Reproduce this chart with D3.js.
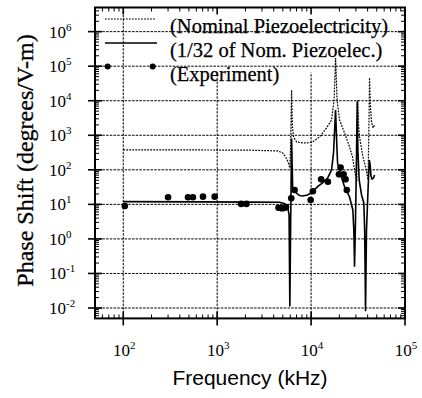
<!DOCTYPE html>
<html><head><meta charset="utf-8">
<script src="https://cdn.jsdelivr.net/npm/d3@7"></script>
<style>body{margin:0;background:#fff}svg{display:block}</style>
</head><body>
<svg id="c" width="422" height="398"></svg>
<script>
// ---- data ----
const xTickValues = [100, 1000, 10000, 100000];
const xTickExps = ["2", "3", "4", "5"];
const yTickValues = [0.01, 0.1, 1, 10, 100, 1000, 10000, 100000, 1000000];
const yTickExps = ["-2", "-1", "0", "1", "2", "3", "4", "5", "6"];

const nominalF = [100,650,2220,4400,4980,5360,5690,5940,6080,6200,6320,6510,7020,8120,9190,10380,12310,14610,16520,17570,18220,18920,20100,22710,25680,27620,29020,30620,31400,32000,32810,35300,38670,40400,41390,41900,42750,44030,45700,47400];
const nominalV = [376,376,370,352,308,236,169,113,730,20500,1990,890,640,600,600,640,890,1630,2780,10500,173000,10500,2780,1170,460,236,99,45,10500,1990,890,270,99,51,2780,45700,7550,2430,1630,1990];

const scaledF = [100,650,2220,4620,5230,5630,5830,5940,6050,6200,6360,6960,7550,8120,9190,10380,11730,13250,14990,16520,17340,17910,18220,18700,19140,20950,22710,25680,27840,28510,29020,29720,30250,30700,30990,31500,32500,34470,36440,37200,38000,38900,40400,41700,42550,43460,44560,46220,47400];
const scaledV = [12.0,11.8,11.6,11.5,10.5,8.4,4.9,0.011,1.8,800,31.9,21.4,18,17.5,18.7,23.3,32.5,42,58,99,308,1990,5400,730,158,63,32.5,16.4,6.9,1.8,0.157,3.5,71,1430,9400,376,51,18.7,11,1.8,0.008,1.8,26,193,138,66,54,58,71];

const expF = [104,300,489,552,706,940,1800,2050,4500,4750,4950,5150,5400,6150,6670,9890,10450,12800,15100,19800,20600,22200,23300,24000];
const expV = [9.0,16,16,16,16.7,16.7,10.3,10.3,8.0,7.8,7.7,7.9,8.3,15,26,13.4,24,53,45,74,116,74,53,26];

const legendLabels = ["(Nominal Piezoelectricity)", "(1/32 of Nom. Piezoelec.)", "(Experiment)"];

// ---- drawing ----
const svg = d3.select("#c");
const L = 95, R = 405, T = 7.5, B = 318.4;
const x = d3.scaleLog().domain([50, 100000]).range([L, R]);
const y = d3.scaleLog().domain([0.005, 5e6]).range([B, T]);
const serif = "'Liberation Serif','Times New Roman',serif";
const sans = "'Liberation Sans',Arial,sans-serif";
const gridStyle = g => g.attr("stroke", "#000").attr("stroke-width", 1).attr("stroke-dasharray", "2.5,1.2");

// vertical grid
svg.append("g").selectAll("line").data(xTickValues.filter(v => v < 100000)).join("line")
  .attr("x1", d => x(d)).attr("x2", d => x(d)).attr("y1", T).attr("y2", B).call(gridStyle);

// legend background (hides vertical grid behind text)
svg.append("rect").attr("x", 163).attr("y", T + 1).attr("width", R - 165).attr("height", 64).attr("fill", "#fff");

// horizontal grid
svg.append("g").selectAll("line").data(yTickValues).join("line")
  .attr("x1", L).attr("x2", R).attr("y1", d => y(d)).attr("y2", d => y(d)).call(gridStyle);

// minor ticks
const minorX = [];
for (let e = 1; e <= 4; e++) for (let m = 2; m <= 9; m++) { const v = m * Math.pow(10, e); if (v > 50 && v < 100000) minorX.push(v); }
const minorY = [];
for (let e = -3; e <= 6; e++) for (let m = 2; m <= 9; m++) { const v = m * Math.pow(10, e); if (v > 0.005 && v < 5e6) minorY.push(v); }
const tk = svg.append("g").attr("stroke", "#000").attr("stroke-width", 1);
minorX.forEach(v => {
  tk.append("line").attr("x1", x(v)).attr("x2", x(v)).attr("y1", B).attr("y2", B - 4);
  tk.append("line").attr("x1", x(v)).attr("x2", x(v)).attr("y1", T).attr("y2", T + 4);
});
minorY.forEach(v => {
  tk.append("line").attr("y1", y(v)).attr("y2", y(v)).attr("x1", L).attr("x2", L + 4);
  tk.append("line").attr("y1", y(v)).attr("y2", y(v)).attr("x1", R).attr("x2", R - 4);
});
xTickValues.forEach(v => {
  tk.append("line").attr("x1", x(v)).attr("x2", x(v)).attr("y1", B + 7).attr("y2", B - 7).attr("stroke-width", 1.6);
  tk.append("line").attr("x1", x(v)).attr("x2", x(v)).attr("y1", T).attr("y2", T + 7).attr("stroke-width", 1.6);
});
yTickValues.forEach(v => {
  tk.append("line").attr("y1", y(v)).attr("y2", y(v)).attr("x1", L - 7).attr("x2", L + 7).attr("stroke-width", 1.6);
  tk.append("line").attr("y1", y(v)).attr("y2", y(v)).attr("x1", R).attr("x2", R - 7).attr("stroke-width", 1.6);
});

// frame
svg.append("rect").attr("x", L).attr("y", T).attr("width", R - L).attr("height", B - T)
  .attr("fill", "none").attr("stroke", "#000").attr("stroke-width", 2);

// curves
const line = d3.line().x(d => x(d[0])).y(d => y(d[1]));
svg.append("path").datum(nominalF.map((f, i) => [f, nominalV[i]])).attr("d", line)
  .attr("fill", "none").attr("stroke", "#000").attr("stroke-width", 1.2).attr("stroke-dasharray", "1.8,1.2");
svg.append("path").datum(scaledF.map((f, i) => [f, scaledV[i]])).attr("d", line)
  .attr("fill", "none").attr("stroke", "#000").attr("stroke-width", 1.6);
svg.append("g").selectAll("circle").data(expF.map((f, i) => [f, expV[i]])).join("circle")
  .attr("cx", d => x(d[0])).attr("cy", d => y(d[1])).attr("r", 3.3).attr("fill", "#000");

// legend
const lg = svg.append("g");
lg.append("line").attr("x1", 105).attr("x2", 156).attr("y1", 19).attr("y2", 19)
  .attr("stroke", "#000").attr("stroke-width", 1.2).attr("stroke-dasharray", "1.8,1.2");
lg.append("line").attr("x1", 105).attr("x2", 157).attr("y1", 43).attr("y2", 43)
  .attr("stroke", "#000").attr("stroke-width", 1.6);
[107.7, 152.7].forEach(cx => lg.append("circle").attr("cx", cx).attr("cy", 66.5).attr("r", 3).attr("fill", "#000"));
legendLabels.forEach((t, i) => lg.append("text").attr("x", 170).attr("y", 33 + 24 * i)
  .attr("font-family", serif).attr("font-size", 20.5).attr("fill", "#000")
  .attr("stroke", "#000").attr("stroke-width", 0.25).text(t));

// tick labels
xTickValues.forEach((v, i) => {
  const t = svg.append("text").attr("x", x(v) + 1).attr("y", 356).attr("text-anchor", "middle")
    .attr("font-family", serif).attr("font-size", 17).attr("fill", "#000");
  t.append("tspan").text("10");
  t.append("tspan").attr("font-size", 11).attr("dy", -7).text(xTickExps[i]);
});
yTickValues.forEach((v, i) => {
  const t = svg.append("text").attr("x", 49).attr("y", y(v) + 6)
    .attr("font-family", serif).attr("font-size", 17).attr("fill", "#000");
  t.append("tspan").text("10");
  t.append("tspan").attr("font-size", 11).attr("dy", -7).text(yTickExps[i]);
});

// axis titles
svg.append("text").attr("x", 250).attr("y", 385).attr("text-anchor", "middle")
  .attr("font-family", sans).attr("font-size", 21).attr("fill", "#000").text("Frequency (kHz)");
svg.append("text").attr("transform", "translate(33,160.5) rotate(-90)").attr("text-anchor", "middle")
  .attr("font-family", serif).attr("font-size", 24).attr("fill", "#000")
  .attr("stroke", "#000").attr("stroke-width", 0.3).text("Phase Shift  (degrees/V-m)");
</script>
</body></html>
